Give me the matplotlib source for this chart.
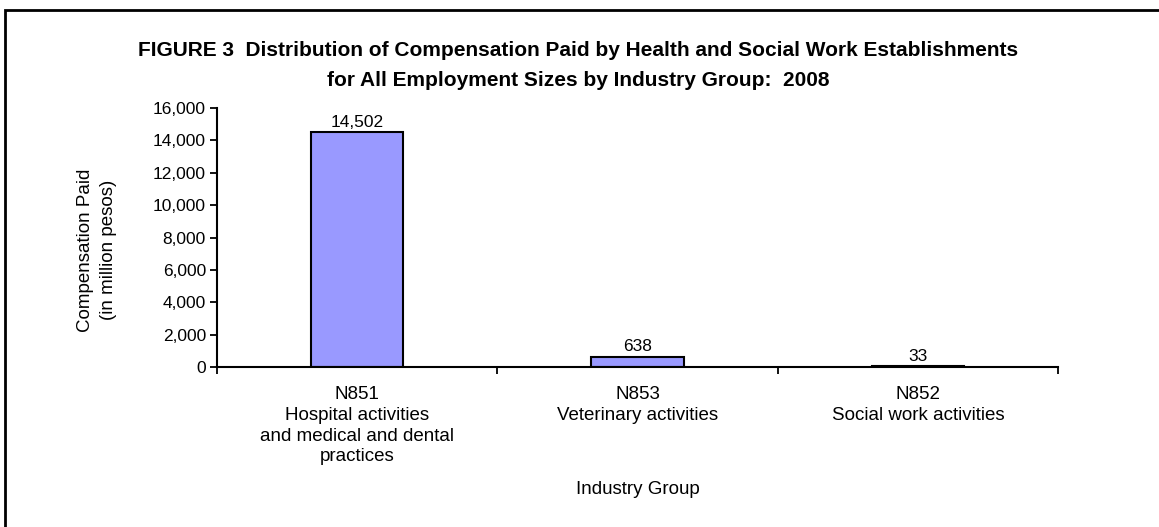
import matplotlib.pyplot as plt
from matplotlib.patches import Rectangle
from matplotlib.ticker import FuncFormatter

plt.rcParams['font.family'] = ['Liberation Sans', 'DejaVu Sans']

kategorien = ["N851\nHospital activities\nand medical and dental\npractices",
              "N853\nVeterinary activities",
              "N852\nSocial work activities"]
werte = [14502, 638, 33]
werte_text = ["14,502", "638", "33"]
y_ticks = [0, 2000, 4000, 6000, 8000, 10000, 12000, 14000, 16000]

fig = plt.figure(figsize=(11.59, 5.27), dpi=100)
ax = fig.add_axes([217 / 1159, 1 - 367 / 527, (1058 - 217) / 1159, (367 - 108) / 527])

pos = range(len(werte))
ax.bar(pos, werte, width=0.33, color="#9999ff", edgecolor="black", linewidth=1.5, zorder=2)
for x, y, t in zip(pos, werte, werte_text):
    ax.text(x, y + 150, t, ha="center", va="bottom", fontsize=12.5)

ax.set_xlim(-0.5, 2.5)
ax.set_ylim(0, 16000)
ax.set_yticks(y_ticks)
ax.yaxis.set_major_formatter(FuncFormatter(lambda v, p: "{:,.0f}".format(v)))
ax.tick_params(axis="y", direction="out", length=5, width=1.3, labelsize=12.5, pad=3)

# Striche an den Kategoriegrenzen, Beschriftung in der Mitte
ax.set_xticks([-0.5, 0.5, 1.5, 2.5])
ax.set_xticklabels([])
ax.tick_params(axis="x", which="major", direction="out", length=5, width=1.3)
ax.set_xticks(list(pos), minor=True)
ax.set_xticklabels(kategorien, minor=True, fontsize=13.5, linespacing=1.28, va="top")
ax.tick_params(axis="x", which="minor", length=0, pad=14)

for s in ["top", "right"]:
    ax.spines[s].set_visible(False)
ax.spines["left"].set_linewidth(1.5)
ax.spines["bottom"].set_linewidth(1.5)

fig.text(578 / 1159, 1 - 50 / 527,
         "FIGURE 3  Distribution of Compensation Paid by Health and Social Work Establishments",
         ha="center", va="center", fontsize=15, fontweight="bold")
fig.text(578 / 1159, 1 - 80 / 527,
         "for All Employment Sizes by Industry Group:  2008",
         ha="center", va="center", fontsize=15, fontweight="bold")
fig.text(97 / 1159, 1 - 250 / 527, "Compensation Paid\n(in million pesos)",
         rotation=90, ha="center", va="center", fontsize=13.5, linespacing=1.45)
fig.text(638 / 1159, 1 - 490 / 527, "Industry Group", ha="center", va="center", fontsize=13.5)

# Rahmen um die Grafik
fig.patches.append(Rectangle((5 / 1159, -0.05), 1.1, 1 - 10 / 527 + 0.05,
                             transform=fig.transFigure, fill=False,
                             edgecolor="black", linewidth=2))

fig.savefig("out.png", dpi=100)
